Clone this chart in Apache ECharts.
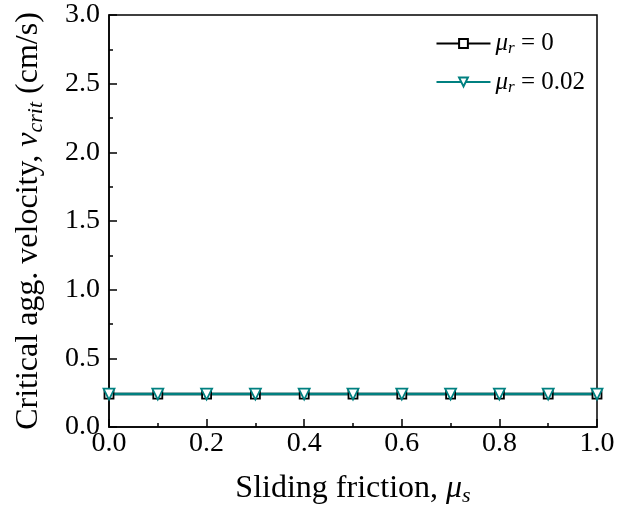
<!DOCTYPE html>
<html>
<head>
<meta charset="utf-8">
<script src="https://cdn.jsdelivr.net/npm/echarts@6/dist/echarts.min.js"></script>
<style>
  html, body { margin: 0; padding: 0; background: #fff; }
  #chart { width: 618px; height: 514px; }
</style>
</head>
<body>
<div id="chart"></div>
<script>
// sliding friction values
const muS = [0, 0.1, 0.2, 0.3, 0.4, 0.5, 0.6, 0.7, 0.8, 0.9, 1.0];
// critical velocity for the two rolling friction cases
const vMuR0 = [0.24, 0.24, 0.24, 0.24, 0.24, 0.24, 0.24, 0.24, 0.24, 0.24, 0.24];
const vMuR002 = [0.24, 0.24, 0.24, 0.24, 0.24, 0.24, 0.24, 0.24, 0.24, 0.24, 0.24];
const legendNames = ['μr = 0', 'μr = 0.02'];

const serif = '"Liberation Serif", "Times New Roman", serif';
const rich = {
  i: { fontFamily: serif, fontStyle: 'italic', fontSize: 32, color: '#000' },
  s: { fontFamily: serif, fontStyle: 'italic', fontSize: 22, color: '#000', padding: [14, 0, 0, 0] }
};
const legendRich = {
  i: { fontFamily: serif, fontStyle: 'italic', fontSize: 25, color: '#000' },
  s: { fontFamily: serif, fontStyle: 'italic', fontSize: 17, color: '#000', padding: [11, 0, 0, 0] },
  n: { fontFamily: serif, fontSize: 25, color: '#000' }
};

const chart = echarts.init(document.getElementById('chart'));
const option = {
  animation: false,
  backgroundColor: '#fff',
  grid: {
    left: 109, right: 21, top: 15, bottom: 87,
    show: true, borderColor: '#000', borderWidth: 1.5
  },
  legend: {
    data: legendNames,
    orient: 'vertical',
    right: 28, top: 26,
    itemWidth: 54, itemHeight: 11, itemGap: 12,
    formatter: function (name) {
      return '{i|μ}{s|r}{n| ' + name.slice(3) + '}';
    },
    textStyle: { rich: legendRich, fontFamily: serif, fontSize: 25 }
  },
  xAxis: {
    type: 'value',
    min: 0, max: 1, interval: 0.2,
    name: 'Sliding friction, {i|μ}{s|s}',
    nameLocation: 'middle', nameGap: 44,
    nameTextStyle: { fontFamily: serif, fontSize: 32, color: '#000', rich: rich },
    axisLine: { onZero: false, lineStyle: { color: '#000', width: 1.5 } },
    axisTick: { inside: true, length: 8, lineStyle: { color: '#000', width: 1.5 } },
    minorTick: { show: true, splitNumber: 2, length: 4, lineStyle: { color: '#000', width: 1.5 } },
    splitLine: { show: false },
    axisLabel: {
      fontFamily: serif, fontSize: 28, color: '#000', margin: 3,
      formatter: v => v.toFixed(1)
    }
  },
  yAxis: {
    type: 'value',
    min: 0, max: 3, interval: 0.5,
    name: 'Critical agg. velocity, {i|v}{s|crit} (cm/s)',
    nameLocation: 'middle', nameGap: 62,
    nameTextStyle: { fontFamily: serif, fontSize: 32, color: '#000', rich: rich },
    axisLine: { onZero: false, lineStyle: { color: '#000', width: 1.5 } },
    axisTick: { inside: true, length: 8, lineStyle: { color: '#000', width: 1.5 } },
    minorTick: { show: true, splitNumber: 2, length: 4, lineStyle: { color: '#000', width: 1.5 } },
    splitLine: { show: false },
    axisLabel: {
      fontFamily: serif, fontSize: 28, color: '#000', margin: 9,
      formatter: v => v.toFixed(1)
    }
  },
  series: [
    {
      name: legendNames[0],
      type: 'line',
      data: muS.map((x, i) => [x, vMuR0[i]]),
      color: '#000',
      lineStyle: { width: 2.5, color: '#000' },
      symbol: 'rect', symbolSize: 9,
      itemStyle: { color: '#fff', borderColor: '#000', borderWidth: 1.8 },
      clip: false
    },
    {
      name: legendNames[1],
      type: 'line',
      data: muS.map((x, i) => [x, vMuR002[i]]),
      color: '#008080',
      lineStyle: { width: 2.5, color: '#008080' },
      symbol: 'triangle', symbolRotate: 180, symbolSize: 11,
      itemStyle: { color: '#fff', borderColor: '#008080', borderWidth: 1.8 },
      clip: false
    }
  ]
};
chart.setOption(option);
</script>
</body>
</html>
